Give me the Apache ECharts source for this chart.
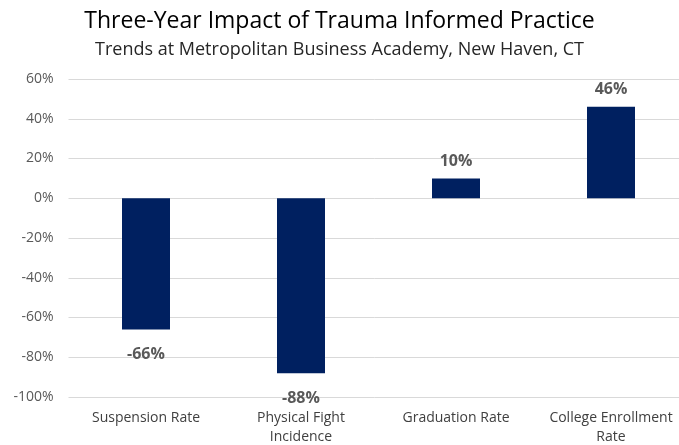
<!DOCTYPE html>
<html>
<head>
<meta charset="utf-8">
<script src="https://cdn.jsdelivr.net/npm/echarts@6/dist/echarts.min.js"></script>
<style>
  html, body { margin: 0; padding: 0; background: #fff; }
  #chart { width: 679px; height: 445px; }
</style>
</head>
<body>
<div id="chart"></div>
<script>
// Three-year change in school outcome measures (percent)
const categories = ['Suspension Rate', 'Physical Fight\nIncidence', 'Graduation Rate', 'College Enrollment\nRate'];
const changes = [-66, -88, 10, 46];
const yTicks = { min: -100, max: 60, step: 20 };

const FONT = '"Open Sans", sans-serif';
const chart = echarts.init(document.getElementById('chart'));

chart.setOption({
  animation: false,
  backgroundColor: '#ffffff',
  title: [
    {
      text: 'Three-Year Impact of Trauma Informed Practice',
      left: 'center', top: 5,
      textStyle: { fontFamily: FONT, fontSize: 23, fontWeight: 'normal', color: '#000000' }
    },
    {
      text: 'Trends at Metropolitan Business Academy, New Haven, CT',
      left: 'center', top: 36,
      textStyle: { fontFamily: FONT, fontSize: 18, fontWeight: 'normal', color: '#262626' }
    }
  ],
  // plot area runs slightly past the right edge of the canvas
  grid: { left: 68.5, width: 620, top: 79, height: 318, containLabel: false, outerBoundsMode: 'none' },
  xAxis: {
    type: 'category',
    data: categories,
    axisLine: { show: false },
    axisTick: { show: false },
    axisLabel: {
      interval: 0, margin: 12, lineHeight: 19,
      fontFamily: FONT, fontSize: 14, color: '#404040'
    }
  },
  yAxis: {
    type: 'value',
    min: yTicks.min, max: yTicks.max, interval: yTicks.step,
    axisLine: { show: false },
    axisTick: { show: false },
    splitLine: { lineStyle: { color: '#d9d9d9', width: 1 } },
    axisLabel: {
      margin: 15,
      fontFamily: FONT, fontSize: 14, color: '#595959',
      formatter: v => v + '%'
    }
  },
  series: [{
    type: 'bar',
    data: changes.map(v => ({
      value: v,
      label: {
        show: true,
        position: v < 0 ? 'bottom' : 'top',
        distance: v < 0 ? 17 : 9
      }
    })),
    barWidth: 48,
    itemStyle: { color: '#002060' },
    label: {
      fontFamily: FONT, fontSize: 16, fontWeight: 'bold', color: '#595959',
      formatter: p => p.value + '%'
    }
  }]
});
</script>
</body>
</html>
